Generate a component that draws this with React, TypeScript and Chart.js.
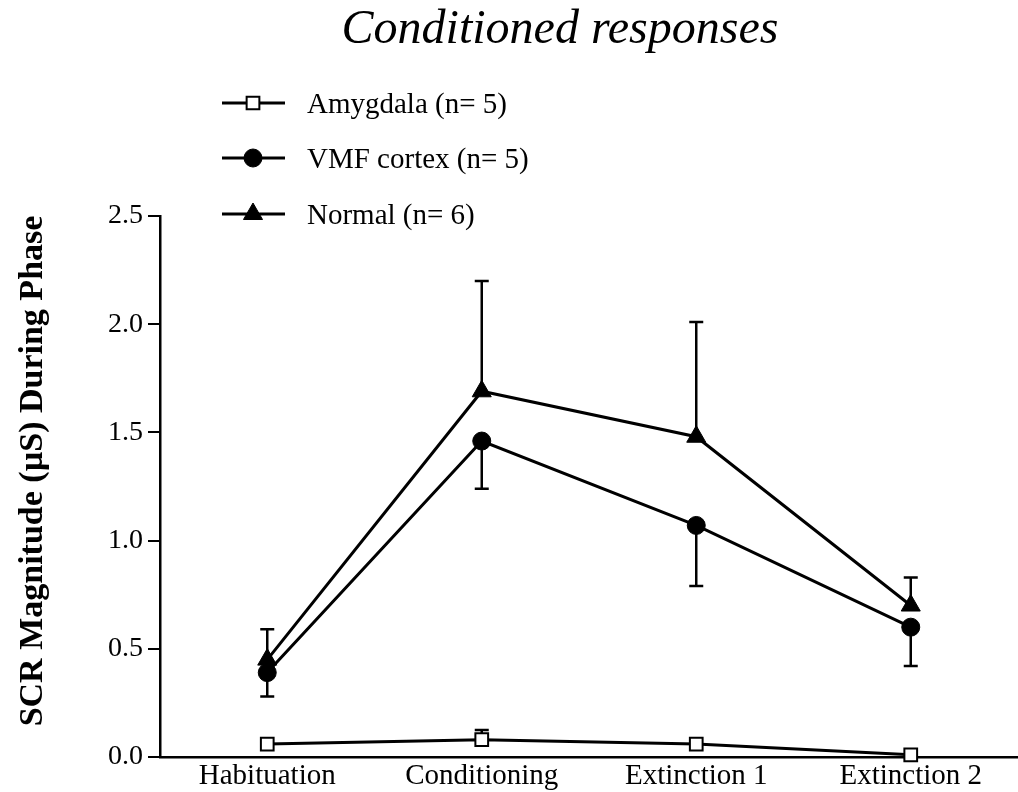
import React, { useEffect, useRef } from "react";
import { Chart, registerables } from "chart.js";

Chart.register(...registerables);

const categories = ["Habituation", "Conditioning", "Extinction 1", "Extinction 2"];
const seriesNames = ["Amygdala (n= 5)", "VMF cortex (n= 5)", "Normal (n= 6)"];
const amygdala = [0.06, 0.08, 0.06, 0.01];
const amygdalaErr = [0, 0.045, 0, 0];
const vmfCortex = [0.39, 1.46, 1.07, 0.6];
const vmfCortexErr = [0.11, 0.22, 0.28, 0.18];
const normal = [0.45, 1.69, 1.48, 0.7];
const normalErr = [0.14, 0.51, 0.53, 0.13];
const yTicks = [0, 0.5, 1.0, 1.5, 2.0, 2.5];
const titleText = "Conditioned responses";
const yTitleText = "SCR Magnitude (µS) During Phase";

const SERIF = '"Liberation Serif", "Times New Roman", serif';

function drawMarker(ctx: CanvasRenderingContext2D, style: string, x: number, y: number, r: number, fill: string, stroke: string, bw: number) {
  ctx.save();
  ctx.beginPath();
  if (style === "circle") {
    ctx.arc(x, y, r, 0, Math.PI * 2);
  } else if (style === "rect") {
    const s = Math.SQRT1_2 * r;
    ctx.rect(x - s, y - s, 2 * s, 2 * s);
  } else if (style === "triangle") {
    let rad = 0;
    ctx.moveTo(x + Math.sin(rad) * r, y - Math.cos(rad) * r);
    rad += (2 * Math.PI) / 3;
    ctx.lineTo(x + Math.sin(rad) * r, y - Math.cos(rad) * r);
    rad += (2 * Math.PI) / 3;
    ctx.lineTo(x + Math.sin(rad) * r, y - Math.cos(rad) * r);
    ctx.closePath();
  }
  ctx.fillStyle = fill;
  ctx.fill();
  ctx.lineWidth = bw;
  ctx.strokeStyle = stroke;
  ctx.stroke();
  ctx.restore();
}

const errorBarPlugin = {
  id: "errorBars",
  beforeDatasetsDraw(chart: any) {
    const ctx = chart.ctx;
    const yScale = chart.scales.y;
    chart.data.datasets.forEach((ds: any, i: number) => {
      const meta = chart.getDatasetMeta(i);
      ds.data.forEach((v: number, j: number) => {
        const e = ds.errors[j];
        if (!e) return;
        const x = meta.data[j].x;
        const y0 = yScale.getPixelForValue(v);
        const y1 = yScale.getPixelForValue(v + ds.errDir * e);
        ctx.save();
        ctx.strokeStyle = "#000";
        ctx.lineWidth = 2.5;
        ctx.beginPath();
        ctx.moveTo(x, y0);
        ctx.lineTo(x, y1);
        ctx.moveTo(x - 7, y1);
        ctx.lineTo(x + 7, y1);
        ctx.stroke();
        ctx.restore();
      });
    });
  },
};

const decorPlugin = {
  id: "decor",
  afterDraw(chart: any) {
    const ctx = chart.ctx;
    ctx.save();
    // Title
    ctx.fillStyle = "#000";
    ctx.font = `italic 48px ${SERIF}`;
    ctx.textAlign = "center";
    ctx.textBaseline = "alphabetic";
    ctx.fillText(titleText, 560, 43);
    // Y axis title
    ctx.save();
    ctx.translate(33, 471);
    ctx.rotate(-Math.PI / 2);
    ctx.font = `bold 34px ${SERIF}`;
    ctx.textAlign = "center";
    ctx.textBaseline = "middle";
    ctx.fillText(yTitleText, 0, 0);
    ctx.restore();
    // Legend
    const rows = [103, 158, 214];
    chart.data.datasets.forEach((ds: any, i: number) => {
      const y = rows[i];
      ctx.strokeStyle = "#000";
      ctx.lineWidth = 3;
      ctx.beginPath();
      ctx.moveTo(222, y);
      ctx.lineTo(285, y);
      ctx.stroke();
      drawMarker(ctx, ds.pointStyle, 253, y, ds.pointRadius, ds.pointBackgroundColor, ds.pointBorderColor, ds.pointBorderWidth);
      ctx.fillStyle = "#000";
      ctx.font = `29px ${SERIF}`;
      ctx.textAlign = "left";
      ctx.textBaseline = "middle";
      ctx.fillText(ds.label, 307, y + 2);
    });
    ctx.restore();
  },
};

export default function App() {
  const ref = useRef<HTMLCanvasElement | null>(null);
  useEffect(() => {
    if (!ref.current) return;
    const common = {
      borderColor: "#000",
      borderWidth: 3,
      pointBorderColor: "#000",
      fill: false,
      tension: 0,
      clip: false,
    };
    const chart = new Chart(ref.current, {
      type: "line",
      data: {
        labels: categories,
        datasets: [
          {
            ...common,
            label: seriesNames[0],
            data: amygdala,
            errors: amygdalaErr,
            errDir: 1,
            pointStyle: "rect",
            pointRadius: 9,
            pointBackgroundColor: "#fff",
            pointBorderWidth: 2,
          } as any,
          {
            ...common,
            label: seriesNames[1],
            data: vmfCortex,
            errors: vmfCortexErr,
            errDir: -1,
            pointStyle: "circle",
            pointRadius: 9,
            pointBackgroundColor: "#000",
            pointBorderWidth: 1,
          } as any,
          {
            ...common,
            label: seriesNames[2],
            data: normal,
            errors: normalErr,
            errDir: 1,
            pointStyle: "triangle",
            pointRadius: 11,
            pointBackgroundColor: "#000",
            pointBorderWidth: 1,
          } as any,
        ],
      },
      options: {
        responsive: false,
        animation: false,
        layout: { autoPadding: false, padding: { top: 216, right: 0, bottom: 0, left: 0 } },
        plugins: {
          legend: { display: false },
          title: { display: false },
          tooltip: { enabled: false },
        },
        scales: {
          x: {
            type: "category",
            offset: true,
            grid: { display: false, drawTicks: false },
            border: { display: true, color: "#000", width: 2.5 },
            ticks: {
              color: "#000",
              font: { family: SERIF, size: 29 },
              padding: 2,
              maxRotation: 0,
              autoSkip: false,
            },
            afterFit: (scale: any) => {
              scale.height = 35;
              scale.paddingRight = 0;
              scale.paddingLeft = 0;
            },
          },
          y: {
            min: 0,
            max: 2.5,
            afterBuildTicks: (scale: any) => {
              scale.ticks = yTicks.map((v) => ({ value: v }));
            },
            grid: {
              display: true,
              drawOnChartArea: false,
              drawTicks: true,
              tickLength: 12,
              color: "#000",
              lineWidth: 2,
            },
            border: { display: true, color: "#000", width: 2.5 },
            ticks: {
              color: "#000",
              font: { family: SERIF, size: 28 },
              padding: 5,
              callback: (v: any) => Number(v).toFixed(1),
            },
            afterFit: (scale: any) => {
              scale.width = 160;
            },
          },
        },
      } as any,
      plugins: [errorBarPlugin, decorPlugin],
    });
    return () => chart.destroy();
  }, []);
  return (
    <div style={{ position: "fixed", left: 0, top: 0, width: 1018, height: 792, background: "#fff" }}>
      <canvas ref={ref} width={1018} height={792} style={{ width: 1018, height: 792 }} />
    </div>
  );
}
